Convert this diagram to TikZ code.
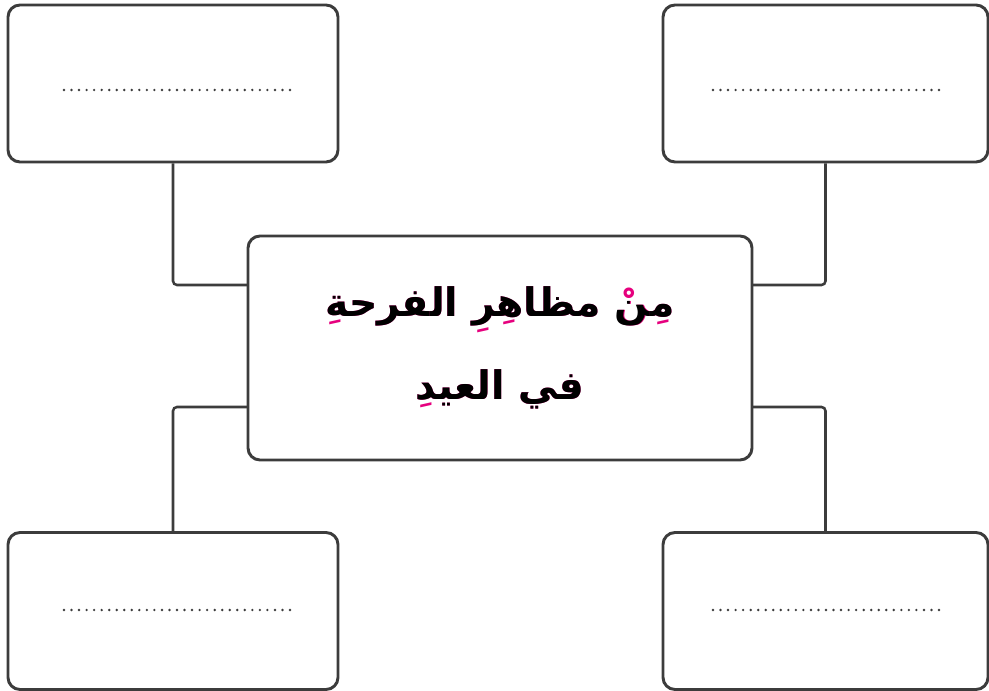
\documentclass[tikz,border=0pt]{standalone}
\usepackage{fontspec}
\TeXXeTstate=1
\newfontfamily\arabicfont[Script=Arabic]{DejaVu Sans}
\definecolor{linec}{HTML}{3C3C3C}
\definecolor{accent}{HTML}{E6007E}
\newcommand{\layered}[2]{\ooalign{\textcolor{accent}{\beginR#1\endR}\cr\beginR#2\endR}}
\begin{document}
\begin{tikzpicture}[x=0.75pt,y=-0.75pt,
  box/.style={draw=linec, line width=2.2pt, rounded corners=9pt, fill=white, inner sep=0pt},
  smallL/.style={box, minimum width=247.5pt, minimum height=117.75pt},
  smallR/.style={box, minimum width=243.75pt, minimum height=117.75pt},
  conn/.style={draw=linec, line width=1.9pt, rounded corners=3pt},
  dotrow/.style={draw=linec, line width=2pt, line cap=round, dash pattern=on 0pt off 5.65pt}]
\useasboundingbox (0,0) rectangle (989,691);
\coordinate (ctl) at (250,285);
\coordinate (ctr) at (750,285);
\coordinate (cbl) at (250,407);
\coordinate (cbr) at (750,407);
\node[smallL] (tl) at (173,83.5) {};
\node[smallR] (tr) at (825.5,83.5) {};
\node[smallL] (bl) at (173,611) {};
\node[smallR] (br) at (825.5,611) {};
\draw[conn] (tl.south) |- (ctl);
\draw[conn] (tr.south) |- (ctr);
\draw[conn] (bl.north) |- (cbl);
\draw[conn] (br.north) |- (cbr);
\node[box, minimum width=378pt, minimum height=168pt, align=center,
      font=\arabicfont\bfseries\fontsize{29.5}{62}\selectfont] (title) at (500,348)
  {\layered{مِنْ مظاهِرِ الفرحةِ}{من مظاهر الفرحة}\\[0pt]\layered{في العيدِ}{في العيد}};
\draw[dotrow] (64,90) -- (290,90);
\draw[dotrow] (713,90) -- (940,90);
\draw[dotrow] (64,610) -- (290,610);
\draw[dotrow] (713,610) -- (940,610);
\end{tikzpicture}
\end{document}
